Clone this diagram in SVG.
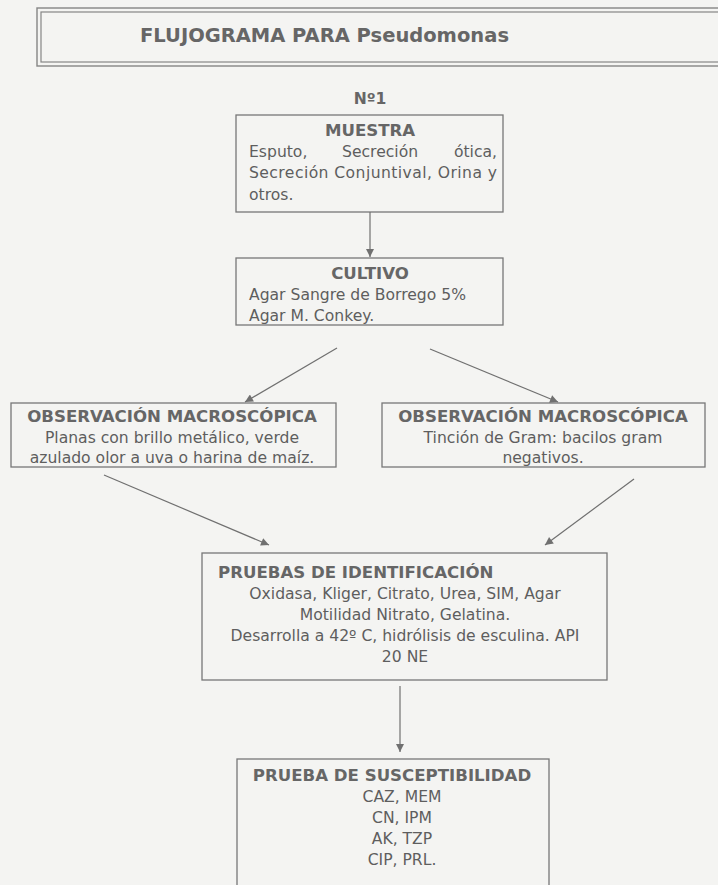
<svg xmlns="http://www.w3.org/2000/svg" width="718" height="885" viewBox="0 0 718 885">
<style>
text{font-family:"DejaVu Sans","Liberation Sans",sans-serif;fill:#5e5e5e;font-size:15.6px}
.b{font-weight:bold;font-size:16.6px;fill:#666}
.c{text-anchor:middle}
.box{fill:none;stroke:#777;stroke-width:1.3}
.ln{stroke:#707070;stroke-width:1.2;fill:none;marker-end:url(#ah)}
</style>
<defs>
<marker id="ah" viewBox="0 0 10 10" refX="10" refY="5" markerWidth="9" markerHeight="8" markerUnits="userSpaceOnUse" orient="auto">
<path d="M0,0 L10,5 L0,10 z" fill="#707070"/>
</marker>
</defs>
<rect width="718" height="885" fill="#f4f4f2"/>
<g id="title">
<rect x="37" y="8" width="700" height="58" fill="none" stroke="#858585" stroke-width="1.4"/>
<rect x="41" y="12" width="700" height="50" fill="none" stroke="#858585" stroke-width="1.2"/>
<text x="140" y="42" class="b" style="font-size:19.5px">FLUJOGRAMA PARA Pseudomonas</text>
</g>
<g id="num">
<text x="370" y="104" class="b c" style="font-size:15.6px">Nº1</text>
</g>
<g id="muestra">
<rect class="box" x="236" y="115" width="267" height="97"/>
<text x="370" y="136" class="b c">MUESTRA</text>
<text x="249" y="157">Esputo,</text>
<text x="342" y="157">Secreción</text>
<text x="497" y="157" style="text-anchor:end">ótica,</text>
<text x="249" y="178" textLength="248" lengthAdjust="spacing">Secreción Conjuntival, Orina y</text>
<text x="249" y="200">otros.</text>
</g>
<g id="cultivo">
<rect class="box" x="236" y="258" width="267" height="67"/>
<text x="370" y="279" class="b c">CULTIVO</text>
<text x="249" y="300">Agar Sangre de Borrego 5%</text>
<text x="249" y="321">Agar M. Conkey.</text>
</g>
<g id="obs1">
<rect class="box" x="11" y="403" width="325" height="64"/>
<text x="172" y="422" class="b c">OBSERVACIÓN MACROSCÓPICA</text>
<text x="172" y="443" class="c">Planas con brillo metálico, verde</text>
<text x="172" y="463" class="c">azulado olor a uva o harina de maíz.</text>
</g>
<g id="obs2">
<rect class="box" x="382" y="403" width="323" height="64"/>
<text x="543" y="422" class="b c">OBSERVACIÓN MACROSCÓPICA</text>
<text x="543" y="443" class="c">Tinción de Gram: bacilos gram</text>
<text x="543" y="463" class="c">negativos.</text>
</g>
<g id="pruebas">
<rect class="box" x="202" y="553" width="405" height="127"/>
<text x="218" y="578" class="b">PRUEBAS DE IDENTIFICACIÓN</text>
<text x="405" y="599" class="c">Oxidasa, Kliger, Citrato, Urea, SIM, Agar</text>
<text x="405" y="620" class="c">Motilidad Nitrato, Gelatina.</text>
<text x="405" y="641" class="c">Desarrolla a 42º C, hidrólisis de esculina. API</text>
<text x="405" y="662" class="c">20 NE</text>
</g>
<g id="suscept">
<rect class="box" x="237" y="759" width="312" height="135"/>
<text x="392" y="781" class="b c">PRUEBA DE SUSCEPTIBILIDAD</text>
<text x="402" y="802" class="c">CAZ, MEM</text>
<text x="402" y="823" class="c">CN, IPM</text>
<text x="402" y="844" class="c">AK, TZP</text>
<text x="402" y="865" class="c">CIP, PRL.</text>
</g>
<g id="connectors">
<line class="ln" x1="370" y1="212" x2="370" y2="257"/>
<line class="ln" x1="337" y1="348" x2="245" y2="402"/>
<line class="ln" x1="430" y1="349" x2="558" y2="402"/>
<line class="ln" x1="104" y1="475" x2="269" y2="545"/>
<line class="ln" x1="634" y1="479" x2="545" y2="545"/>
<line class="ln" x1="400" y1="686" x2="400" y2="752"/>
</g>
</svg>
